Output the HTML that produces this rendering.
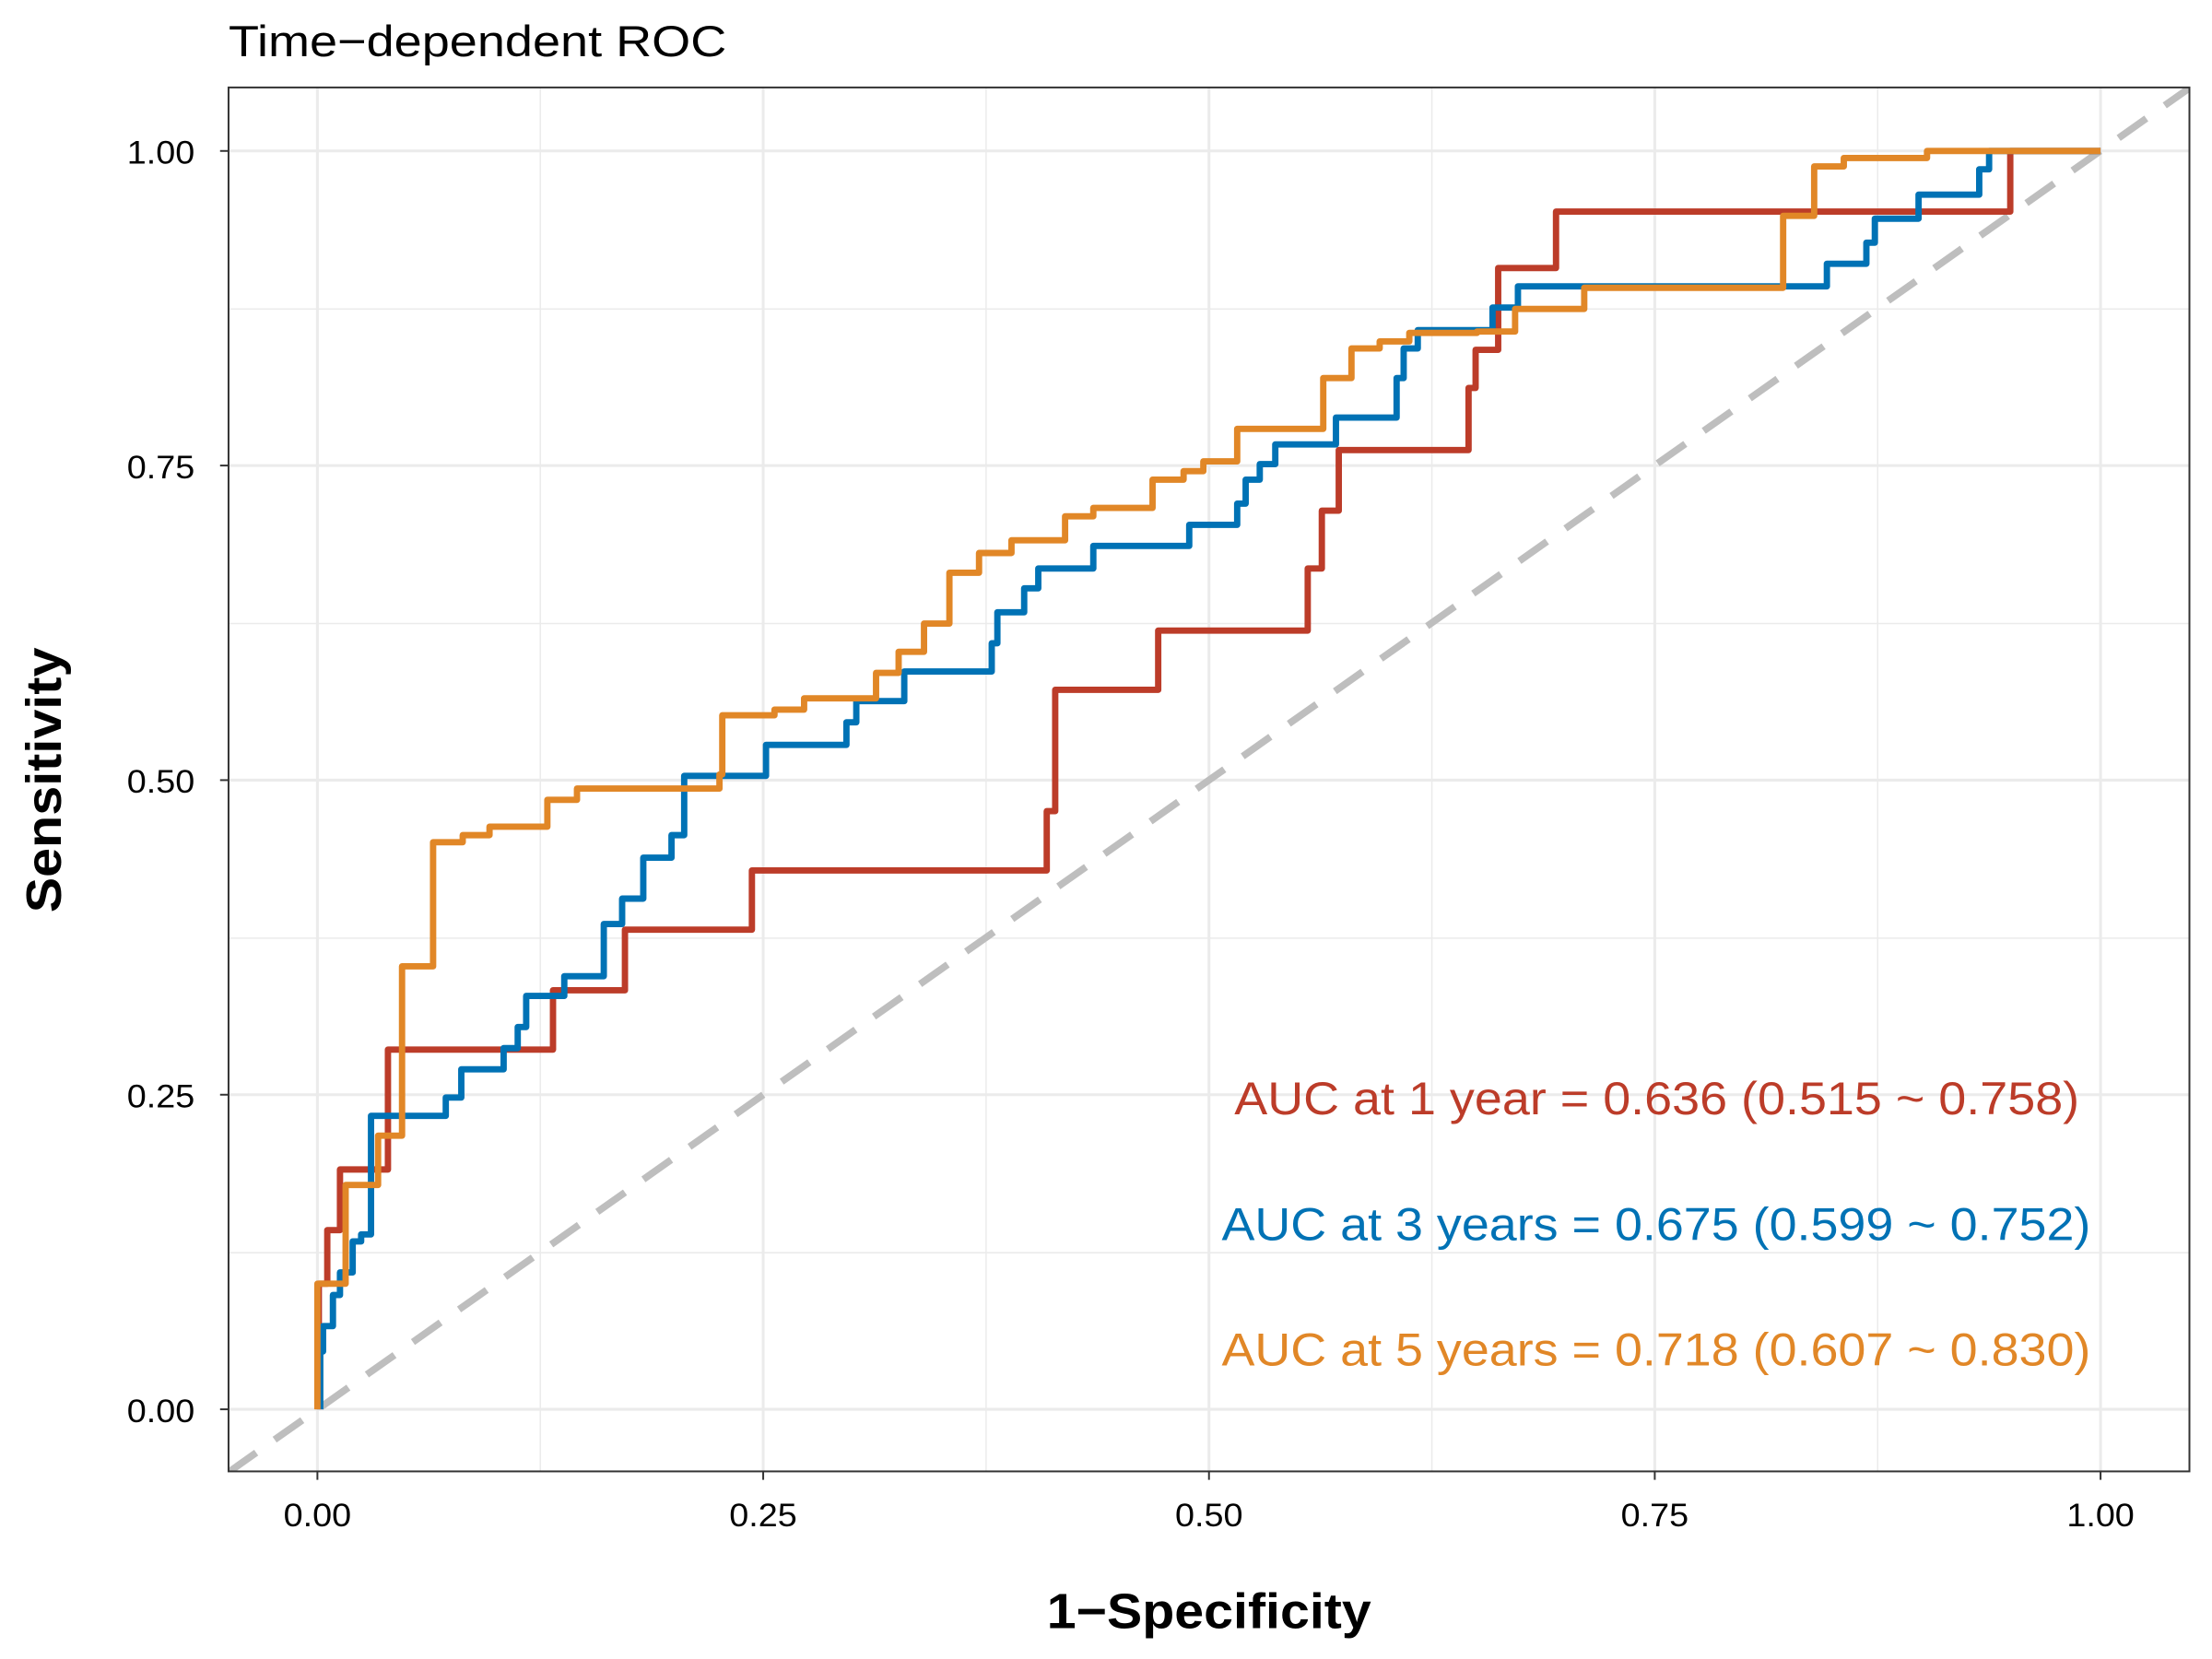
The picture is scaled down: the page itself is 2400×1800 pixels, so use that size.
<!DOCTYPE html>
<html><head><meta charset="utf-8"><style>html,body{margin:0;padding:0;background:#fff}svg{display:block}</style></head>
<body>
<svg width="2400" height="1800" viewBox="0 0 1568 1176" xmlns="http://www.w3.org/2000/svg">
<rect width="1568" height="1176" fill="#fff"/>
<defs><clipPath id="c"><rect x="162" y="62" width="1390" height="981"/></clipPath></defs>
<g stroke="#EBEBEB" stroke-width="1">
<line x1="383" y1="62" x2="383" y2="1043"/><line x1="699" y1="62" x2="699" y2="1043"/><line x1="1015" y1="62" x2="1015" y2="1043"/><line x1="1331" y1="62" x2="1331" y2="1043"/>
<line x1="162" y1="888" x2="1552" y2="888"/><line x1="162" y1="665" x2="1552" y2="665"/><line x1="162" y1="442" x2="1552" y2="442"/><line x1="162" y1="219" x2="1552" y2="219"/>
</g>
<g stroke="#EBEBEB" stroke-width="2">
<line x1="225" y1="62" x2="225" y2="1043"/><line x1="541" y1="62" x2="541" y2="1043"/><line x1="857" y1="62" x2="857" y2="1043"/><line x1="1173" y1="62" x2="1173" y2="1043"/><line x1="1489" y1="62" x2="1489" y2="1043"/>
<line x1="162" y1="999" x2="1552" y2="999"/><line x1="162" y1="776" x2="1552" y2="776"/><line x1="162" y1="553" x2="1552" y2="553"/><line x1="162" y1="330" x2="1552" y2="330"/><line x1="162" y1="107" x2="1552" y2="107"/>
</g>
<g clip-path="url(#c)" fill="none" stroke-width="4.5" stroke-linejoin="round">
<line x1="162" y1="1043.6" x2="1552" y2="62.4" stroke="#BEBEBE" stroke-width="5" stroke-dasharray="24,16"/>
<path stroke="#BC3C29" d="M226,999 V910 H232 V872 H241 V829 H275 V744 H392 V702 H443 V659 H533 V617 H742 V575 H748 V489 H821 V447 H927 V403 H937 V362 H949 V319 H1041 V275 H1046 V248 H1062 V190 H1103 V150 H1425 V107 H1489"/>
<path stroke="#0072B5" d="M227,999 V958 H229 V940 H236 V918 H241 V902 H250 V880 H256 V875 H263 V791 H316 V778 H327 V758 H357 V743 H367 V728 H373 V706 H400 V692 H428 V655 H441 V637 H456 V608 H476 V592 H485 V550 H543 V528 H600 V512 H607 V497 H641 V476 H703 V456 H707 V434 H726 V417 H736 V403 H775 V387 H843 V372 H877 V357 H883 V340 H893 V329 H904 V315 H947 V296 H990 V268 H995 V247 H1005 V234 H1058 V218 H1076 V203 H1295 V187 H1323 V172 H1329 V155 H1360 V138 H1403 V120 H1410 V107 H1489"/>
<path stroke="#E18727" d="M225,999 V910 H245 V840 H268 V805 H285 V685 H307 V597 H328 V592 H347 V586 H388 V567 H409 V559 H510 V549 H512 V507 H549 V503 H570 V495 H621 V477 H637 V462 H655 V442 H673 V406 H694 V392 H717 V383 H755 V366 H775 V360 H817 V340 H839 V334 H853 V327 H877 V304 H938 V268 H958 V247 H978 V242 H999 V236 H1047 V235 H1074 V219 H1123 V204 H1264 V153 H1286 V118 H1307 V112 H1366 V107 H1489"/>
</g>
<rect x="162" y="62" width="1390" height="981" fill="none" stroke="#333" stroke-width="1.3"/>
<g stroke="#333" stroke-width="1.3">
<line x1="156" y1="999" x2="162" y2="999"/><line x1="156" y1="776" x2="162" y2="776"/><line x1="156" y1="553" x2="162" y2="553"/><line x1="156" y1="330" x2="162" y2="330"/><line x1="156" y1="107" x2="162" y2="107"/>
<line x1="225" y1="1043" x2="225" y2="1049"/><line x1="541" y1="1043" x2="541" y2="1049"/><line x1="857" y1="1043" x2="857" y2="1049"/><line x1="1173" y1="1043" x2="1173" y2="1049"/><line x1="1489" y1="1043" x2="1489" y2="1049"/>
</g>
<g font-family="'Liberation Sans',sans-serif" font-size="23" fill="#000">
<g text-anchor="end"><text x="138" y="1008" textLength="48" lengthAdjust="spacingAndGlyphs">0.00</text><text x="138" y="785" textLength="48" lengthAdjust="spacingAndGlyphs">0.25</text><text x="138" y="562" textLength="48" lengthAdjust="spacingAndGlyphs">0.50</text><text x="138" y="339" textLength="48" lengthAdjust="spacingAndGlyphs">0.75</text><text x="138" y="116" textLength="48" lengthAdjust="spacingAndGlyphs">1.00</text></g>
<g text-anchor="middle"><text x="225" y="1082" textLength="48" lengthAdjust="spacingAndGlyphs">0.00</text><text x="541" y="1082" textLength="48" lengthAdjust="spacingAndGlyphs">0.25</text><text x="857" y="1082" textLength="48" lengthAdjust="spacingAndGlyphs">0.50</text><text x="1173" y="1082" textLength="48" lengthAdjust="spacingAndGlyphs">0.75</text><text x="1489" y="1082" textLength="48" lengthAdjust="spacingAndGlyphs">1.00</text></g>
</g>
<g font-family="'Liberation Sans',sans-serif">
<text x="162" y="40" font-size="31" textLength="353" lengthAdjust="spacingAndGlyphs">Time−dependent ROC</text>
<text x="857" y="1154" font-size="35" font-weight="bold" text-anchor="middle" textLength="230" lengthAdjust="spacingAndGlyphs">1−Specificity</text>
<text transform="translate(43,553) rotate(-90)" font-size="35" font-weight="bold" text-anchor="middle" textLength="188" lengthAdjust="spacingAndGlyphs">Sensitivity</text>
<g font-size="33">
<text x="875" y="790" fill="#BC3C29" textLength="599" lengthAdjust="spacingAndGlyphs">AUC at 1 year = 0.636 (0.515 ~ 0.758)</text>
<text x="866" y="879" fill="#0072B5" textLength="616" lengthAdjust="spacingAndGlyphs">AUC at 3 years = 0.675 (0.599 ~ 0.752)</text>
<text x="866" y="968" fill="#E18727" textLength="616" lengthAdjust="spacingAndGlyphs">AUC at 5 years = 0.718 (0.607 ~ 0.830)</text>
</g>
</g>
</svg>
</body></html>
